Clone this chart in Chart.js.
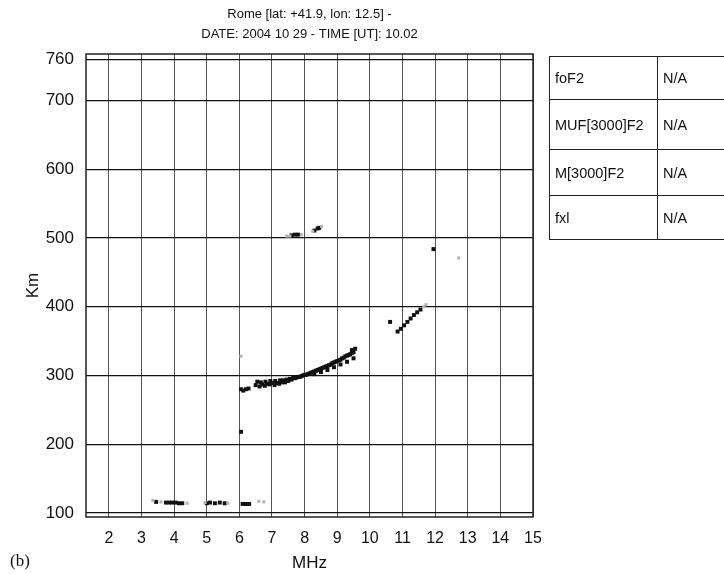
<!DOCTYPE html>
<html>
<head>
<meta charset="utf-8">
<script src="https://cdn.jsdelivr.net/npm/chart.js@4/dist/chart.umd.min.js"></script>
<style>
  body { margin: 0; background: #fff; font-family: "Liberation Sans", Arial, sans-serif; }
  #wrap { position: relative; width: 724px; height: 574px; overflow: hidden; }
  #iono { position: absolute; left: 0; top: 0; }
  table.params { position: absolute; left: 549px; top: 56px; width: 220px; table-layout: fixed; border-collapse: collapse; font-size: 14.5px; color: #111; }
  table.params td { border: 1px solid #222; padding: 0 0 0 5px; vertical-align: middle; white-space: nowrap; }
  table.params col.name { width: 108px; }
  .fig { position: absolute; left: 10px; top: 551px; font-family: "Liberation Serif", "Times New Roman", serif; font-size: 17px; color: #111; }
</style>
</head>
<body>
<div id="wrap">
  <canvas id="iono" width="724" height="574"></canvas>
  <table class="params">
    <colgroup><col class="name"><col></colgroup>
    <tr style="height:43px"><td>foF2</td><td>N/A</td></tr>
    <tr style="height:50px"><td>MUF[3000]F2</td><td>N/A</td></tr>
    <tr style="height:46px"><td>M[3000]F2</td><td>N/A</td></tr>
    <tr style="height:44px"><td>fxl</td><td>N/A</td></tr>
  </table>
  <div class="fig">(b)</div>
</div>
<script>
const titleLines = ["Rome [lat: +41.9, lon: 12.5] -", "DATE: 2004 10 29 - TIME [UT]: 10.02"];

const freqTicks = [2, 3, 4, 5, 6, 7, 8, 9, 10, 11, 12, 13, 14, 15];
const heightTicks = [100, 200, 300, 400, 500, 600, 700, 760];

// echoes, [MHz, km]
const strongEchoes = [
  // E layer
  [3.45, 116], [3.75, 115], [3.85, 115], [3.95, 115], [4.05, 115], [4.15, 114], [4.25, 114],
  [5.0, 114], [5.1, 115], [5.25, 114], [5.4, 115], [5.55, 114],
  [6.1, 113], [6.2, 113], [6.3, 113],
  // F2 trace
  [6.05, 280], [6.12, 278], [6.2, 280], [6.28, 281],
  [6.5, 286], [6.55, 291], [6.62, 284], [6.66, 290], [6.7, 287], [6.78, 285], [6.8, 291],
  [6.85, 288], [6.92, 287], [6.95, 292], [7.0, 289], [7.08, 286], [7.1, 292], [7.15, 289],
  [7.22, 288], [7.25, 293], [7.3, 290], [7.35, 293], [7.4, 290], [7.45, 294], [7.5, 292],
  [7.55, 295], [7.6, 294], [7.65, 297], [7.7, 296], [7.75, 297], [7.8, 298], [7.85, 298],
  [7.9, 299], [7.95, 300], [8.0, 301], [8.05, 301], [8.1, 302], [8.15, 303], [8.2, 304],
  [8.25, 305], [8.3, 306], [8.35, 307], [8.4, 308], [8.45, 309], [8.5, 310], [8.55, 311],
  [8.6, 312], [8.65, 313], [8.7, 314], [8.75, 315], [8.8, 316], [8.85, 318], [8.9, 319],
  [8.95, 320], [9.0, 321], [9.05, 322], [9.1, 323], [9.15, 325], [9.2, 326], [9.25, 328],
  [9.3, 329], [9.35, 330], [9.4, 331], [9.45, 333], [9.5, 334],
  [8.3, 302], [8.5, 305], [8.7, 308], [8.9, 312], [9.1, 316], [9.3, 320], [9.5, 325],
  [9.45, 337], [9.55, 339],
  // second hop
  [7.6, 504], [7.7, 505], [7.8, 505], [8.3, 511], [8.4, 514], [8.45, 515],
  // x trace
  [10.62, 378], [10.85, 364], [10.95, 368], [11.05, 373], [11.15, 378], [11.25, 383],
  [11.35, 388], [11.45, 392], [11.55, 396],
  // isolated
  [6.05, 218], [11.95, 484],
];

const faintEchoes = [
  [3.35, 118], [3.6, 116], [4.4, 114], [4.95, 115], [5.65, 114], [6.6, 117], [6.75, 116],
  [7.45, 503], [7.55, 503], [7.9, 505], [8.25, 510], [8.52, 517],
  [11.65, 400], [11.72, 403],
  [6.05, 328], [12.72, 471],
];

const toPoints = (arr) => arr.map(([f, h]) => ({ x: f, y: h }));

const frame = {
  id: "frame",
  afterDatasetsDraw(chart) {
    const { ctx, chartArea: a } = chart;
    ctx.save();
    ctx.strokeStyle = "#222";
    ctx.lineWidth = 1.5;
    ctx.strokeRect(a.left, a.top, a.right - a.left, a.bottom - a.top);
    ctx.restore();
  },
};

// two-line heading, centred over the plot area rather than the canvas
const plotTitle = {
  id: "plotTitle",
  afterDraw(chart) {
    const { ctx, chartArea: a } = chart;
    const cx = (a.left + a.right) / 2;
    ctx.save();
    ctx.fillStyle = "#111";
    ctx.font = "13px 'Liberation Sans', Arial, sans-serif";
    ctx.textAlign = "center";
    ctx.textBaseline = "middle";
    titleLines.forEach((line, i) => ctx.fillText(line, cx, 14 + i * 20));
    ctx.restore();
  },
};

new Chart(document.getElementById("iono"), {
  type: "scatter",
  data: {
    datasets: [
      {
        label: "faint",
        data: toPoints(faintEchoes),
        pointStyle: "rect",
        pointRadius: 2.2,
        backgroundColor: "#b5b5b5",
        borderWidth: 0,
      },
      {
        label: "strong",
        data: toPoints(strongEchoes),
        pointStyle: "rect",
        pointRadius: 2.8,
        backgroundColor: "#111",
        borderWidth: 0,
      },
    ],
  },
  options: {
    responsive: false,
    animation: false,
    layout: { padding: { left: 0, right: 191, top: 54, bottom: 0 } },
    plugins: {
      legend: { display: false },
      tooltip: { enabled: false },
      title: { display: false },
    },
    scales: {
      x: {
        type: "linear",
        min: 1.3,
        max: 15,
        afterBuildTicks(scale) {
          scale.ticks = freqTicks.map((v) => ({ value: v }));
        },
        afterFit(scale) {
          scale.height = 57;
        },
        ticks: { color: "#111", padding: 12, font: { family: "Liberation Sans", size: 16 } },
        grid: { color: "#555", lineWidth: 1, drawTicks: false },
        border: { display: false },
        title: {
          display: true,
          text: "MHz",
          color: "#111",
          font: { family: "Liberation Sans", size: 17 },
          padding: { top: 0, bottom: 0 },
        },
      },
      y: {
        type: "linear",
        min: 94,
        max: 768,
        afterBuildTicks(scale) {
          scale.ticks = heightTicks.map((v) => ({ value: v }));
        },
        afterFit(scale) {
          scale.width = 86;
        },
        ticks: { color: "#111", padding: 12, font: { family: "Liberation Sans", size: 17 } },
        grid: { color: "#111", lineWidth: 1.3, drawTicks: false },
        border: { display: false },
        title: {
          display: true,
          text: "Km",
          color: "#111",
          font: { family: "Liberation Sans", size: 17 },
          padding: { top: 23, bottom: 0 },
        },
      },
    },
  },
  plugins: [frame, plotTitle],
});
</script>
</body>
</html>
